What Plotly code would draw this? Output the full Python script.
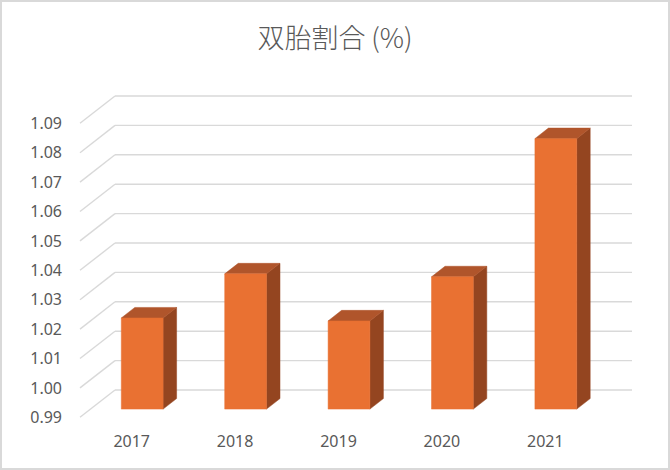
import plotly.graph_objects as go

# ---- data ----
categories = ["2017", "2018", "2019", "2020", "2021"]
values = [1.021, 1.036, 1.020, 1.035, 1.082]
y_ticks = [0.99, 1.00, 1.01, 1.02, 1.03, 1.04, 1.05, 1.06, 1.07, 1.08, 1.09]
y_tick_labels = ["0.99", "1.00", "1.01", "1.02", "1.03", "1.04", "1.05", "1.06", "1.07", "1.08", "1.09"]
title_text = "双胎割合 (%)"

# ---- geometry (pixel layout of the pseudo-3D box) ----
W, H = 670, 470
ML, MR, MT, MB = 78, 30, 80, 45
plot_w = W - ML - MR
plot_h = H - MT - MB
px_per_cat = 103.4
px_per_val = 2940.0
back_x0_px = 115.0       # back wall left edge (pixels)
back_ymin_px = 390.0     # back wall floor level (pixels)
ymin, ymax = y_ticks[0], y_ticks[-1]

x_range = [(ML - back_x0_px) / px_per_cat, (ML + plot_w - back_x0_px) / px_per_cat]
y_range = [ymin - (MT + plot_h - back_ymin_px) / px_per_val,
           ymin + (back_ymin_px - MT) / px_per_val]

# depth shift from back wall (t=0) to front edge (t=1), in data units
DX = -35.0 / px_per_cat
DY = -27.3 / px_per_val
T_FRONT, T_BACK = 0.70, 0.314
BAR_W = 0.404

n = len(categories)
grid_col = "#D9D9D9"
text_col = "#595959"

shapes = []
for v in y_ticks:
    shapes.append(dict(type="line", xref="x", yref="y", x0=0, x1=n, y0=v, y1=v,
                       line=dict(color=grid_col, width=1.4), layer="below"))
    shapes.append(dict(type="line", xref="x", yref="y", x0=0, y0=v, x1=DX, y1=v + DY,
                       line=dict(color=grid_col, width=1.4), layer="below"))

# border around the chart
def px_to_paper_x(px):
    return (px - ML) / plot_w

def px_to_paper_y(py):
    return 1 - (py - MT) / plot_h

shapes.append(dict(type="rect", xref="paper", yref="paper",
                   x0=px_to_paper_x(1), x1=px_to_paper_x(W - 1),
                   y0=px_to_paper_y(H - 1), y1=px_to_paper_y(1),
                   line=dict(color=grid_col, width=2), fillcolor="rgba(0,0,0,0)", layer="above"))


def pt(x, y, t):
    return x + DX * t, y + DY * t


front_x, front_y, side_x, side_y, top_x, top_y = [], [], [], [], [], []
for i, v in enumerate(values):
    c = i + 0.5
    xl, xr = c - BAR_W / 2, c + BAR_W / 2
    # front face
    for (x, y) in [(xl, ymin), (xr, ymin), (xr, v), (xl, v), (xl, ymin)]:
        px, py = pt(x, y, T_FRONT)
        front_x.append(px); front_y.append(py)
    front_x.append(None); front_y.append(None)
    # right side face
    for (x, y, t) in [(xr, ymin, T_FRONT), (xr, v, T_FRONT), (xr, v, T_BACK), (xr, ymin, T_BACK), (xr, ymin, T_FRONT)]:
        px, py = pt(x, y, t)
        side_x.append(px); side_y.append(py)
    side_x.append(None); side_y.append(None)
    # top face
    for (x, t) in [(xl, T_FRONT), (xr, T_FRONT), (xr, T_BACK), (xl, T_BACK), (xl, T_FRONT)]:
        px, py = pt(x, v, t)
        top_x.append(px); top_y.append(py)
    top_x.append(None); top_y.append(None)

fig = go.Figure()
for xs, ys, col in [(side_x, side_y, "#944520"), (top_x, top_y, "#B0552B"), (front_x, front_y, "#E97132")]:
    fig.add_trace(go.Scatter(x=xs, y=ys, mode="lines", fill="toself", fillcolor=col,
                             line=dict(color=col, width=0.5), hoverinfo="skip", showlegend=False))

fig.update_layout(
    width=W, height=H,
    margin=dict(l=ML, r=MR, t=MT, b=MB, pad=0),
    paper_bgcolor="white", plot_bgcolor="white",
    title=dict(text=title_text, x=0.5, xref="container", xanchor="center",
               y=1 - 39 / H, yref="container", yanchor="middle",
               font=dict(family="Noto Sans CJK JP", size=27, color=text_col, weight=300)),
    xaxis=dict(range=x_range, showgrid=False, zeroline=False, showline=False,
               tickmode="array", tickvals=[i + 0.5 + DX for i in range(n)], ticktext=categories,
               ticks="", ticklabelstandoff=5,
               tickfont=dict(family="Noto Sans", size=16, color=text_col), fixedrange=True),
    yaxis=dict(range=y_range, showgrid=False, zeroline=False, showline=False,
               tickmode="array", tickvals=[v + DY for v in y_ticks], ticktext=y_tick_labels,
               ticks="", ticklabelstandoff=15,
               tickfont=dict(family="Noto Sans", size=16, color=text_col), fixedrange=True),
    shapes=shapes,
    showlegend=False,
    hovermode=False,
)

fig.write_html("out.html")
